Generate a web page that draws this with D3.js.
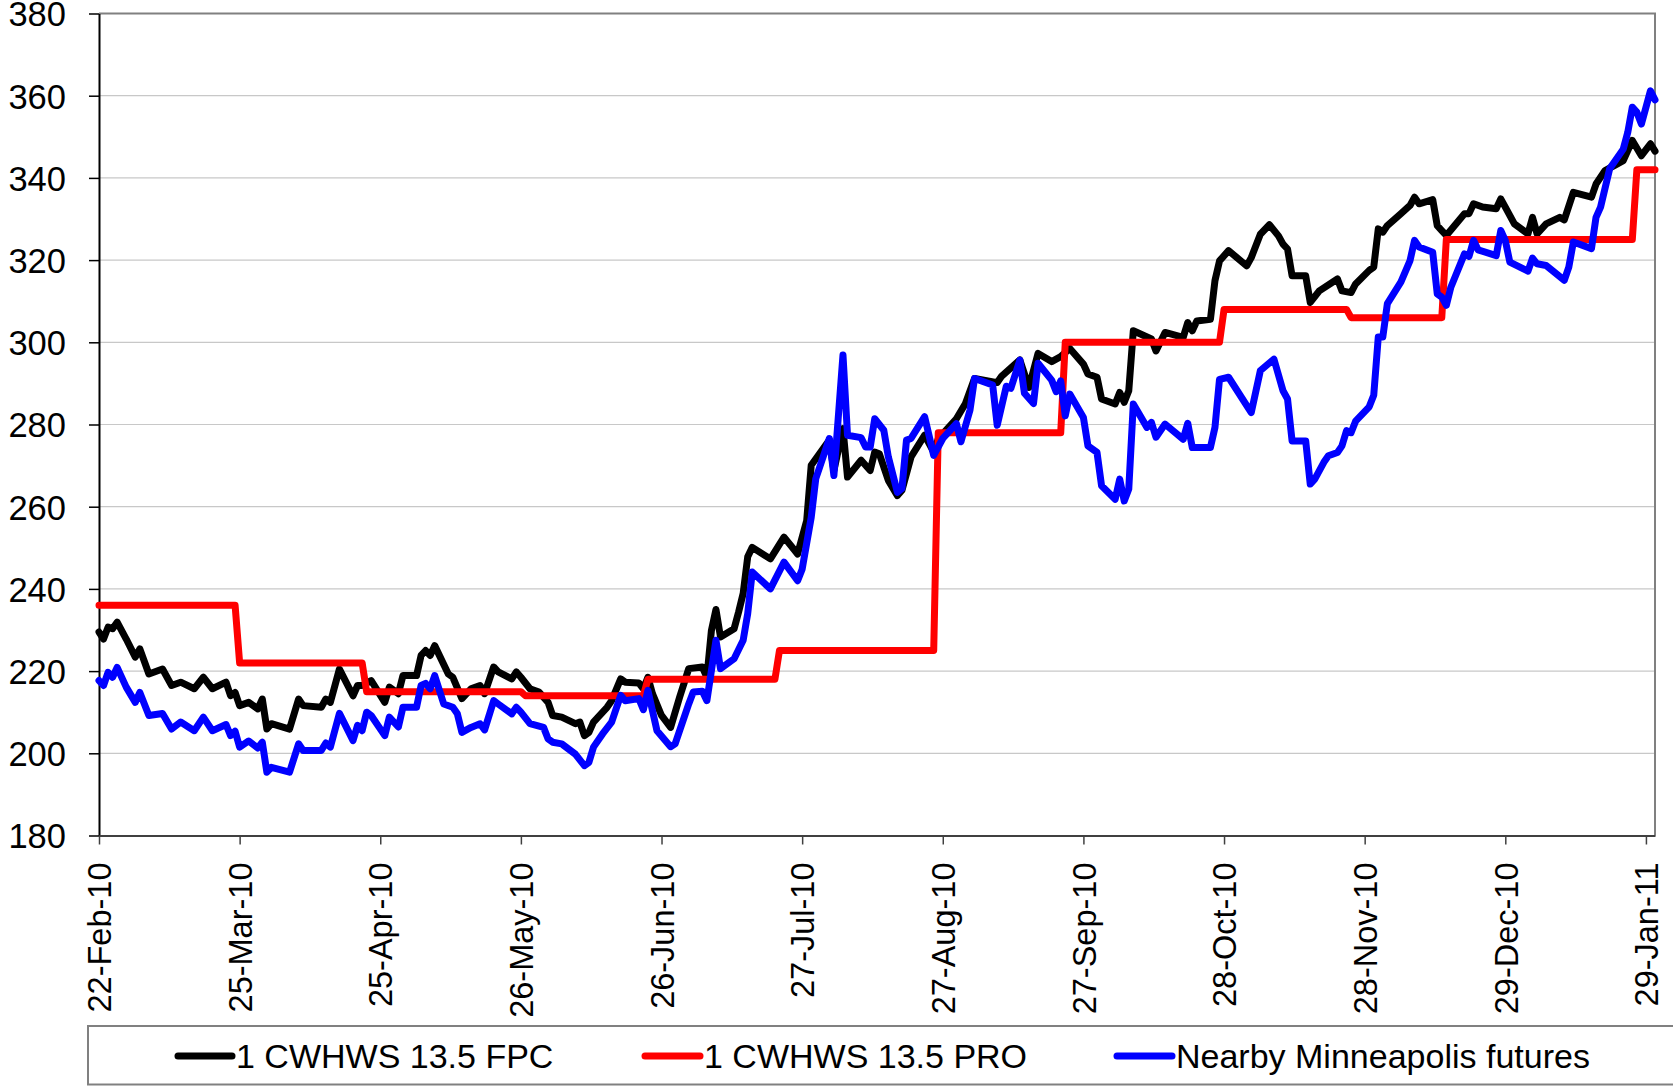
<!DOCTYPE html>
<html>
<head>
<meta charset="utf-8">
<script src="https://cdn.jsdelivr.net/npm/d3@7"></script>
<style>
  html, body { margin: 0; padding: 0; background: #ffffff; }
  svg { display: block; font-family: "Liberation Sans", Arial, sans-serif; }
</style>
</head>
<body>
<svg id="chart" width="1673" height="1086"></svg>
<script>
// ---- Data -------------------------------------------------------------
// 1 CWHWS 13.5 FPC (black)
const fpcDates = [
  "2010-02-22","2010-02-23","2010-02-24","2010-02-25","2010-02-26","2010-02-28","2010-03-02","2010-03-03",
  "2010-03-05","2010-03-08","2010-03-10","2010-03-12","2010-03-15","2010-03-17","2010-03-19","2010-03-22",
  "2010-03-23","2010-03-24","2010-03-25","2010-03-27","2010-03-29","2010-03-30","2010-03-31","2010-04-01",
  "2010-04-05","2010-04-07","2010-04-08","2010-04-12","2010-04-13","2010-04-14","2010-04-16","2010-04-19",
  "2010-04-20","2010-04-21","2010-04-23","2010-04-26","2010-04-27","2010-04-29","2010-04-30","2010-05-03",
  "2010-05-04","2010-05-05","2010-05-06","2010-05-07","2010-05-10","2010-05-11","2010-05-13","2010-05-15",
  "2010-05-17","2010-05-18","2010-05-20","2010-05-21","2010-05-24","2010-05-25","2010-05-26","2010-05-28",
  "2010-05-30","2010-06-01","2010-06-02","2010-06-04","2010-06-07","2010-06-08","2010-06-09","2010-06-10",
  "2010-06-11","2010-06-14","2010-06-15","2010-06-17","2010-06-18","2010-06-21","2010-06-22","2010-06-23",
  "2010-06-24","2010-06-26","2010-06-28","2010-06-30","2010-07-02","2010-07-05","2010-07-06","2010-07-07",
  "2010-07-08","2010-07-09","2010-07-12","2010-07-13","2010-07-14","2010-07-15","2010-07-16","2010-07-20",
  "2010-07-23","2010-07-26","2010-07-28","2010-07-29","2010-08-02","2010-08-03","2010-08-05","2010-08-06",
  "2010-08-09","2010-08-11","2010-08-12","2010-08-13","2010-08-15","2010-08-17","2010-08-18","2010-08-20",
  "2010-08-23","2010-08-25","2010-08-26","2010-08-30","2010-09-01","2010-09-03","2010-09-08","2010-09-09",
  "2010-09-13","2010-09-15","2010-09-17","2010-09-20","2010-09-22","2010-09-24","2010-09-27","2010-09-28",
  "2010-09-30","2010-10-01","2010-10-04","2010-10-05","2010-10-06","2010-10-07","2010-10-08","2010-10-12",
  "2010-10-13","2010-10-15","2010-10-19","2010-10-20","2010-10-21","2010-10-22","2010-10-25","2010-10-26",
  "2010-10-27","2010-10-29","2010-11-02","2010-11-03","2010-11-05","2010-11-07","2010-11-09","2010-11-10",
  "2010-11-11","2010-11-12","2010-11-15","2010-11-16","2010-11-18","2010-11-22","2010-11-23","2010-11-25",
  "2010-11-26","2010-11-29","2010-11-30","2010-12-01","2010-12-02","2010-12-03","2010-12-06","2010-12-08",
  "2010-12-09","2010-12-10","2010-12-13","2010-12-14","2010-12-15","2010-12-16","2010-12-20","2010-12-21",
  "2010-12-22","2010-12-24","2010-12-27","2010-12-28","2010-12-29","2010-12-31","2011-01-03","2011-01-04",
  "2011-01-05","2011-01-07","2011-01-10","2011-01-11","2011-01-13","2011-01-17","2011-01-18","2011-01-20",
  "2011-01-22","2011-01-24","2011-01-26","2011-01-28","2011-01-30","2011-01-31"
];
const fpcValues = [
  229.5,227.8,230.7,230.3,231.9,227.8,223.4,225.4,
  219.3,220.5,216.5,217.3,215.7,218.5,215.7,217.3,
  214.0,214.8,211.6,212.4,210.8,213.2,205.9,207.2,
  205.9,213.2,211.6,211.2,213.2,212.4,220.5,214.0,
  216.5,216.5,217.7,212.4,216.1,214.5,218.9,218.9,
  223.8,225.0,223.8,226.2,219.3,218.5,213.3,215.7,
  216.5,214.5,221.0,219.8,218.1,219.8,218.5,215.7,
  214.9,212.4,209.2,208.8,207.2,207.6,204.3,205.1,
  207.6,211.2,212.8,218.1,217.3,217.1,215.7,218.5,
  214.5,209.2,206.3,213.7,220.6,221.0,218.5,229.9,
  235.0,228.3,230.3,234.4,238.9,247.8,250.1,247.3,
  252.6,248.5,256.6,270.1,276.2,268.8,279.0,267.2,
  271.3,268.8,273.3,272.9,266.4,262.7,264.0,272.1,
  277.4,273.3,276.5,281.4,285.1,291.2,290.2,291.8,
  295.7,289.0,297.3,295.3,296.5,298.5,294.7,292.3,
  291.5,286.2,285.0,287.8,285.4,288.2,302.8,300.8,
  297.9,302.4,301.2,304.8,302.8,305.2,305.6,315.0,
  319.8,322.3,318.6,320.6,326.3,328.6,325.9,323.9,
  322.7,316.2,316.2,309.7,312.5,315.4,312.5,312.1,
  314.2,317.5,318.3,327.6,326.8,328.4,331.3,333.3,
  335.3,333.7,334.7,328.4,327.2,326.0,331.3,331.3,
  333.7,332.9,332.5,334.9,332.9,328.8,326.4,330.4,
  326.4,328.8,330.4,329.8,336.5,335.3,338.5,341.8,
  343.0,344.2,349.1,345.4,348.3,346.5
];

// 1 CWHWS 13.5 PRO (red, stepped)
const proDates = [
  "2010-02-22","2010-03-24","2010-03-25","2010-04-21","2010-04-22","2010-05-26","2010-05-27","2010-06-22",
  "2010-06-23","2010-07-21","2010-07-22","2010-08-25","2010-08-26","2010-09-22","2010-09-23","2010-10-27",
  "2010-10-28","2010-11-24","2010-11-25","2010-12-15","2010-12-16","2011-01-26","2011-01-27","2011-01-31"
];
const proValues = [
  236,236,222,222,215,215,214,214,
  218,218,225,225,278,278,300,300,
  308,308,306,306,325,325,342,342
];

// Nearby Minneapolis futures (blue)
const mplsDates = [
  "2010-02-22","2010-02-23","2010-02-24","2010-02-25","2010-02-26","2010-02-28","2010-03-02","2010-03-03",
  "2010-03-05","2010-03-08","2010-03-10","2010-03-12","2010-03-15","2010-03-17","2010-03-19","2010-03-22",
  "2010-03-23","2010-03-24","2010-03-25","2010-03-27","2010-03-29","2010-03-30","2010-03-31","2010-04-01",
  "2010-04-05","2010-04-07","2010-04-08","2010-04-12","2010-04-13","2010-04-14","2010-04-16","2010-04-19",
  "2010-04-20","2010-04-21","2010-04-22","2010-04-23","2010-04-26","2010-04-27","2010-04-29","2010-04-30",
  "2010-05-03","2010-05-04","2010-05-05","2010-05-06","2010-05-07","2010-05-09","2010-05-11","2010-05-12",
  "2010-05-13","2010-05-15","2010-05-17","2010-05-18","2010-05-20","2010-05-21","2010-05-24","2010-05-25",
  "2010-05-26","2010-05-28","2010-05-31","2010-06-01","2010-06-02","2010-06-04","2010-06-07","2010-06-09",
  "2010-06-10","2010-06-11","2010-06-13","2010-06-15","2010-06-17","2010-06-18","2010-06-21","2010-06-22",
  "2010-06-23","2010-06-25","2010-06-28","2010-06-29","2010-07-02","2010-07-03","2010-07-05","2010-07-06",
  "2010-07-08","2010-07-09","2010-07-12","2010-07-14","2010-07-15","2010-07-16","2010-07-20","2010-07-23",
  "2010-07-26","2010-07-27","2010-07-29","2010-07-30","2010-08-02","2010-08-03","2010-08-05","2010-08-06",
  "2010-08-09","2010-08-10","2010-08-11","2010-08-12","2010-08-14","2010-08-15","2010-08-17","2010-08-18",
  "2010-08-19","2010-08-20","2010-08-23","2010-08-25","2010-08-27","2010-08-30","2010-08-31","2010-09-02",
  "2010-09-03","2010-09-07","2010-09-08","2010-09-10","2010-09-11","2010-09-13","2010-09-14","2010-09-16",
  "2010-09-17","2010-09-20","2010-09-21","2010-09-22","2010-09-23","2010-09-24","2010-09-27","2010-09-28",
  "2010-09-30","2010-10-01","2010-10-04","2010-10-05","2010-10-06","2010-10-07","2010-10-08","2010-10-11",
  "2010-10-12","2010-10-13","2010-10-15","2010-10-19","2010-10-20","2010-10-21","2010-10-25","2010-10-26",
  "2010-10-27","2010-10-29","2010-11-03","2010-11-05","2010-11-08","2010-11-10","2010-11-11","2010-11-12",
  "2010-11-15","2010-11-16","2010-11-17","2010-11-19","2010-11-20","2010-11-22","2010-11-23","2010-11-24",
  "2010-11-25","2010-11-26","2010-11-29","2010-11-30","2010-12-01","2010-12-02","2010-12-03","2010-12-06",
  "2010-12-08","2010-12-09","2010-12-10","2010-12-13","2010-12-14","2010-12-15","2010-12-16","2010-12-17",
  "2010-12-20","2010-12-21","2010-12-22","2010-12-23","2010-12-27","2010-12-28","2010-12-29","2010-12-30",
  "2011-01-03","2011-01-04","2011-01-05","2011-01-07","2011-01-11","2011-01-12","2011-01-13","2011-01-17",
  "2011-01-18","2011-01-19","2011-01-21","2011-01-24","2011-01-25","2011-01-26","2011-01-27","2011-01-28",
  "2011-01-30","2011-01-31"
];
const mplsValues = [
  217.7,216.5,219.7,218.5,220.9,216.1,212.4,214.8,
  209.2,209.7,205.9,207.6,205.5,208.8,205.5,207.0,
  204.3,205.4,201.5,203.0,201.3,202.7,195.4,196.6,
  195.4,202.3,200.7,200.7,202.5,201.5,209.7,203.1,
  206.8,205.5,210.0,209.2,204.3,208.8,206.4,211.2,
  211.2,216.5,217.0,215.7,218.9,212.0,211.2,209.6,
  205.1,206.3,207.2,205.7,212.8,212.0,209.6,211.2,
  210.0,207.2,206.3,203.5,202.7,202.3,199.8,197.0,
  197.8,201.5,204.7,207.6,214.1,212.8,213.3,210.6,
  215.3,205.5,201.6,202.3,212.0,214.9,215.1,212.8,
  227.5,220.6,223.0,227.5,234.0,244.1,240.0,246.5,
  242.0,244.8,257.4,266.8,276.6,267.6,296.9,277.4,
  276.8,274.5,274.5,281.4,278.6,272.1,263.5,264.4,
  276.2,276.6,281.9,272.5,276.6,280.2,275.8,283.5,
  291.2,289.6,279.8,289.3,288.8,295.7,287.6,285.1,
  294.9,290.8,288.0,290.6,282.1,287.4,281.7,274.8,
  273.2,265.1,261.8,266.7,261.4,264.3,285.0,279.3,
  280.5,276.9,280.1,276.4,280.3,274.4,274.4,279.3,
  291.0,291.5,282.9,293.1,295.9,288.2,286.2,276.0,
  276.0,265.5,266.7,270.8,272.4,273.2,274.8,278.5,
  278.0,280.8,284.3,287.1,301.3,301.3,309.4,314.7,
  319.9,324.8,323.2,321.9,311.8,311.0,309.0,313.4,
  321.5,320.9,324.8,322.5,321.1,327.2,324.8,319.5,
  317.3,320.5,319.1,318.7,315.1,318.3,324.4,322.8,
  330.4,332.9,342.2,347.0,351.1,357.2,356.0,353.1,
  361.2,359.0
];

// Axis ticks
const yTicks = [180, 200, 220, 240, 260, 280, 300, 320, 340, 360, 380];
const xTickDates = [
  "2010-02-22","2010-03-25","2010-04-25","2010-05-26","2010-06-26","2010-07-27",
  "2010-08-27","2010-09-27","2010-10-28","2010-11-28","2010-12-29","2011-01-29"
];
const axisStart = "2010-02-22";
const axisEnd = "2011-01-31";

const seriesNames = ["1 CWHWS 13.5 FPC", "1 CWHWS 13.5 PRO", "Nearby Minneapolis futures"];
const seriesColors = ["#000000", "#ff0000", "#0000ff"];

// ---- Chart ------------------------------------------------------------
const parse = d3.timeParse("%Y-%m-%d");
const svg = d3.select("#chart");

const plot = { left: 99, right: 1655, top: 13.5, bottom: 835.5 };

const x = d3.scaleTime()
  .domain([parse(axisStart), parse(axisEnd)])
  .range([plot.left, plot.right]);

const y = d3.scaleLinear()
  .domain([180, 380])
  .range([plot.bottom, plot.top]);

// horizontal gridlines
svg.append("g")
  .selectAll("line")
  .data(yTicks.filter(v => v > 180 && v < 380))
  .join("line")
  .attr("x1", plot.left).attr("x2", plot.right)
  .attr("y1", d => y(d)).attr("y2", d => y(d))
  .attr("stroke", "#c8c8c8")
  .attr("stroke-width", 1.2);

// plot frame (top and right)
svg.append("path")
  .attr("d", `M${plot.left},${y(380)}H${plot.right}V${plot.bottom}`)
  .attr("fill", "none")
  .attr("stroke", "#808080")
  .attr("stroke-width", 2);

// y axis
const yAxis = svg.append("g")
  .attr("transform", `translate(${plot.left},0)`)
  .call(d3.axisLeft(y).tickValues(yTicks).tickSize(10).tickSizeOuter(0).tickPadding(23));
yAxis.select(".domain").attr("stroke", "#000").attr("stroke-width", 2);
yAxis.selectAll(".tick line").attr("stroke", "#000").attr("stroke-width", 1.5);
yAxis.selectAll(".tick text")
  .attr("fill", "#000")
  .attr("font-size", 34.5)
  .attr("font-family", "Liberation Sans, Arial, sans-serif")
  .attr("dy", "0.36em");

// x axis
const xAxis = svg.append("g")
  .attr("transform", `translate(0,${plot.bottom})`)
  .call(d3.axisBottom(x)
    .tickValues(xTickDates.map(parse))
    .tickFormat(d3.timeFormat("%d-%b-%y"))
    .tickSize(9).tickSizeOuter(0));
xAxis.select(".domain").attr("stroke", "#404040").attr("stroke-width", 2.2);
xAxis.selectAll(".tick line").attr("stroke", "#404040").attr("stroke-width", 1.5);
xAxis.selectAll(".tick text")
  .attr("fill", "#000")
  .attr("font-size", 32.5)
  .attr("font-family", "Liberation Sans, Arial, sans-serif")
  .attr("text-anchor", "end")
  .attr("transform", "rotate(-90)")
  .attr("x", -27)
  .attr("y", 0)
  .attr("dy", "0.36em");

// series lines
const line = d3.line()
  .x(d => x(d.date))
  .y(d => y(d.value));

const series = [
  { dates: fpcDates, values: fpcValues },
  { dates: proDates, values: proValues },
  { dates: mplsDates, values: mplsValues }
];

series.forEach((s, i) => {
  const pts = s.dates.map((d, k) => ({ date: parse(d), value: s.values[k] }));
  svg.append("path")
    .datum(pts)
    .attr("d", line)
    .attr("fill", "none")
    .attr("stroke", seriesColors[i])
    .attr("stroke-width", 7)
    .attr("stroke-linejoin", "round")
    .attr("stroke-linecap", "round");
});

// legend
const legend = svg.append("g");
legend.append("rect")
  .attr("x", 88).attr("y", 1026)
  .attr("width", 1640).attr("height", 58.5)
  .attr("fill", "none")
  .attr("stroke", "#808080")
  .attr("stroke-width", 2);

const legendItems = [
  { x0: 178, x1: 232, tx: 236 },
  { x0: 645, x1: 700, tx: 704 },
  { x0: 1117, x1: 1172, tx: 1176 }
];
legendItems.forEach((it, i) => {
  legend.append("line")
    .attr("x1", it.x0).attr("x2", it.x1)
    .attr("y1", 1056).attr("y2", 1056)
    .attr("stroke", seriesColors[i])
    .attr("stroke-width", 7)
    .attr("stroke-linecap", "round");
  legend.append("text")
    .attr("x", it.tx).attr("y", 1068)
    .attr("font-size", 34)
    .attr("fill", "#000")
    .text(seriesNames[i]);
});
</script>
</body>
</html>
